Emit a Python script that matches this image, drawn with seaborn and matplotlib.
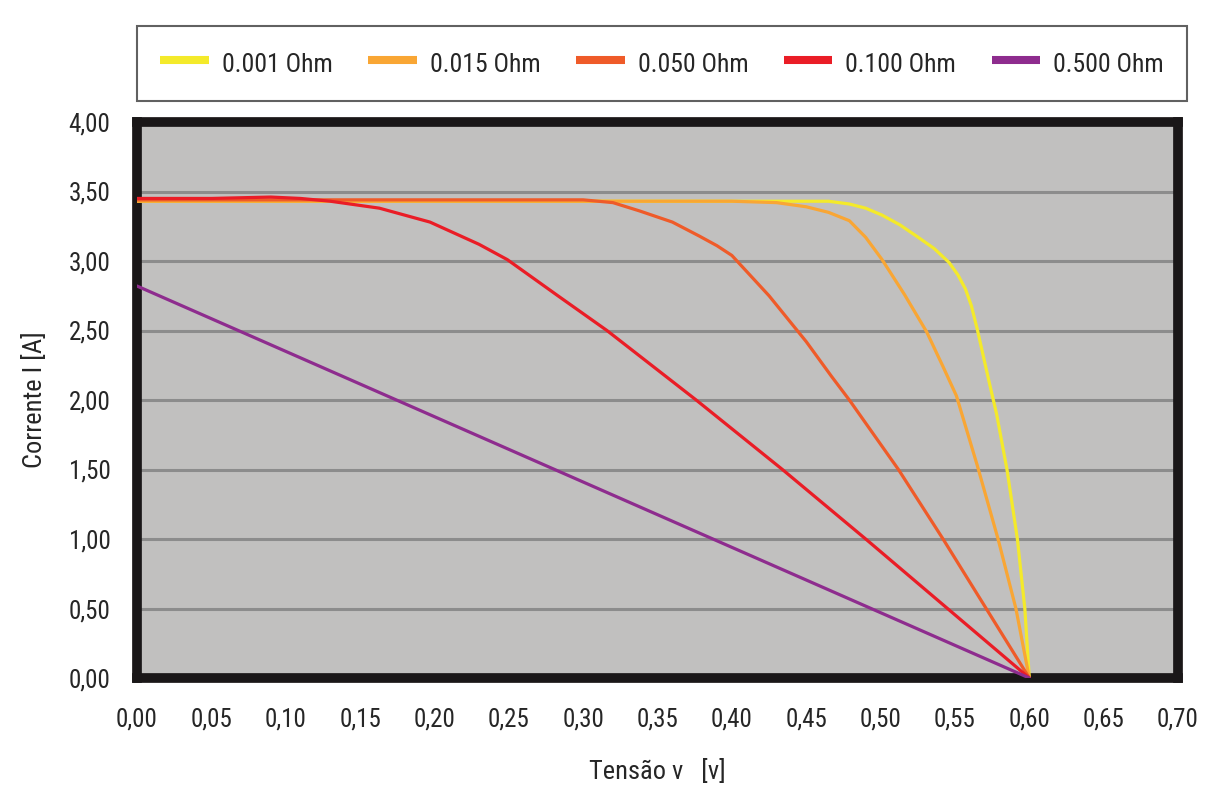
import numpy as np
import pandas as pd
import matplotlib
matplotlib.use('Agg')
import matplotlib.pyplot as plt
from matplotlib.ticker import FuncFormatter
import seaborn as sb

# curves, tension (V) vs current (A)
v_001 = [0, 0.10, 0.20, 0.30, 0.40, 0.45, 0.465, 0.479, 0.490, 0.501, 0.513, 0.524, 0.536, 0.546, 0.552, 0.557, 0.561, 0.565, 0.569, 0.573, 0.578, 0.585, 0.592, 0.597, 0.600]
i_001 = [3.43, 3.43, 3.43, 3.43, 3.43, 3.43, 3.43, 3.41, 3.38, 3.33, 3.26, 3.18, 3.09, 2.99, 2.90, 2.80, 2.68, 2.51, 2.32, 2.13, 1.90, 1.50, 1.00, 0.50, 0.00]

v_015 = [0, 0.10, 0.20, 0.30, 0.40, 0.43, 0.45, 0.465, 0.479, 0.490, 0.501, 0.516, 0.531, 0.542, 0.551, 0.565, 0.579, 0.591, 0.600]
i_015 = [3.43, 3.43, 3.43, 3.43, 3.43, 3.42, 3.39, 3.35, 3.29, 3.17, 3.01, 2.76, 2.49, 2.24, 2.03, 1.53, 1.00, 0.50, 0.00]

v_050 = [0, 0.10, 0.20, 0.30, 0.32, 0.338, 0.36, 0.378, 0.39, 0.40, 0.425, 0.45, 0.467, 0.479, 0.512, 0.542, 0.571, 0.600]
i_050 = [3.44, 3.44, 3.44, 3.44, 3.42, 3.36, 3.28, 3.18, 3.11, 3.04, 2.75, 2.42, 2.17, 2.00, 1.50, 1.00, 0.50, 0.00]

v_100 = [0, 0.05, 0.09, 0.11, 0.13, 0.163, 0.197, 0.23, 0.249, 0.283, 0.316, 0.346, 0.376, 0.434, 0.490, 0.545, 0.600]
i_100 = [3.45, 3.45, 3.46, 3.45, 3.43, 3.38, 3.28, 3.12, 3.01, 2.75, 2.50, 2.25, 2.00, 1.50, 1.00, 0.50, 0.00]

v_500 = [0, 0.600]
i_500 = [2.82, 0.00]

labels = ['0.001 Ohm', '0.015 Ohm', '0.050 Ohm', '0.100 Ohm', '0.500 Ohm']
colors = ['#F4EA2A', '#F9A634', '#EF5B29', '#EA1D26', '#8E2C8E']

series = [(v_001, i_001), (v_015, i_015), (v_050, i_050), (v_100, i_100), (v_500, i_500)]
frames = []
for lab, (v, i) in zip(labels, series):
    frames.append(pd.DataFrame({'v': v, 'i': i, 'r': lab}))
df = pd.concat(frames, ignore_index=True)

sb.set_style('white')
plt.rcParams['font.family'] = ['Roboto Condensed', 'Liberation Sans Narrow', 'Roboto', 'DejaVu Sans']

fig = plt.figure(figsize=(12.05, 7.91), dpi=100, facecolor='white')
ax = fig.add_axes([137 / 1205, 1 - 678 / 791, (1178 - 137) / 1205, (678 - 122) / 791])
ax.set_facecolor('#C1C0BF')

sb.lineplot(data=df, x='v', y='i', hue='r', palette=dict(zip(labels, colors)),
            estimator=None, sort=False, linewidth=2.3, ax=ax, zorder=3)

ax.set_xlim(0, 0.70)
ax.set_ylim(0, 4.0)
ax.set_xticks(np.arange(0, 0.701, 0.05))
ax.set_yticks(np.arange(0, 4.01, 0.5))
ax.xaxis.set_major_formatter(FuncFormatter(lambda x, p: f'{x:.2f}'.replace('.', ',')))
ax.yaxis.set_major_formatter(FuncFormatter(lambda x, p: f'{x:.2f}'.replace('.', ',')))
ax.grid(axis='y', color='#8C8C8C', linewidth=2.2, zorder=1)
ax.grid(axis='x', visible=False)

for s in ax.spines.values():
    s.set_visible(True)
    s.set_color('#1A1718')
    s.set_linewidth(7)

ax.tick_params(axis='both', direction='out', length=9, width=2, color='#1A1718',
               labelsize=18, labelcolor='#262626')
ax.tick_params(axis='x', pad=12)
ax.tick_params(axis='y', pad=10)

ax.set_xlabel('Tensão v   [v]', fontsize=19, color='#262626', labelpad=20)
ax.set_ylabel('Corrente I [A]', fontsize=19, color='#262626', labelpad=16)

handles, labs = ax.get_legend_handles_labels()
ax.get_legend().remove()
for h in handles:
    h.set_linewidth(5.8)
    h.set_solid_capstyle('butt')
leg = fig.legend(handles, labs, loc='center', ncol=5, mode='expand',
                 bbox_to_anchor=(137 / 1205, 1 - 105 / 791, (1187 - 137) / 1205, 83 / 791),
                 borderaxespad=0, frameon=True, fancybox=False, edgecolor='#3A3A3A',
                 fontsize=18.5, handlelength=1.9, handleheight=1.4, handletextpad=0.5,
                 borderpad=0.9, columnspacing=1.5)
leg.get_frame().set_linewidth(1.5)
for t in leg.get_texts():
    t.set_color('#262626')

fig.savefig('out.png', dpi=100, facecolor='white')
